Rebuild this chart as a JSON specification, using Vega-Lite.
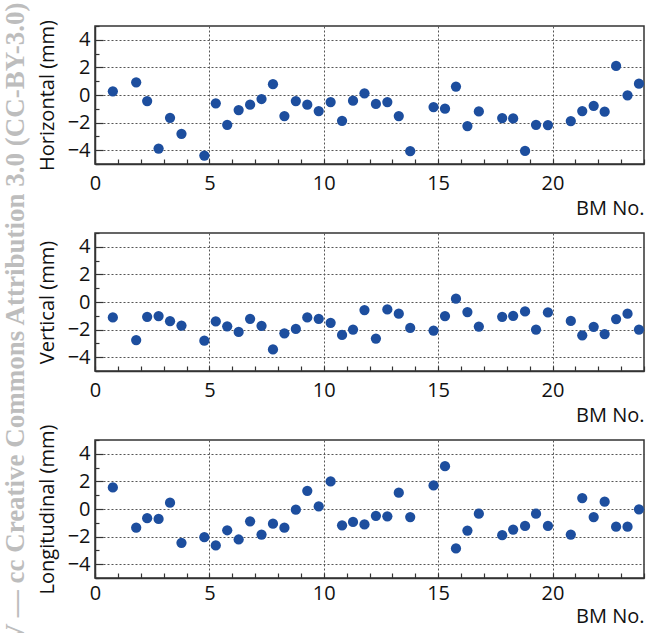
{
  "$schema": "https://vega.github.io/schema/vega-lite/v6.json",
  "padding": {"left": 2, "top": 1, "right": 0, "bottom": 0},
  "background": "white",
  "bounds": "flush",
  "spacing": 69,
  "title": {"text": "V — cc Creative Commons Attribution 3.0 (CC-BY-3.0)", "orient": "left", "anchor": "middle", "font": "Liberation Serif", "fontWeight": "bold", "fontSize": 27, "color": "#bdbdbd", "offset": 6},
  "datasets": {
    "bm": [
      {"bm": 0.78, "h": 0.27, "v": -1.12, "l": 1.56},
      {"bm": 1.8, "h": 0.92, "v": -2.76, "l": -1.35},
      {"bm": 2.28, "h": -0.44, "v": -1.07, "l": -0.67},
      {"bm": 2.78, "h": -3.88, "v": -1.02, "l": -0.72},
      {"bm": 3.28, "h": -1.65, "v": -1.39, "l": 0.46},
      {"bm": 3.78, "h": -2.81, "v": -1.71, "l": -2.45},
      {"bm": 4.78, "h": -4.39, "v": -2.8, "l": -2.04},
      {"bm": 5.28, "h": -0.6, "v": -1.41, "l": -2.64},
      {"bm": 5.78, "h": -2.16, "v": -1.76, "l": -1.54},
      {"bm": 6.28, "h": -1.09, "v": -2.17, "l": -2.21},
      {"bm": 6.78, "h": -0.7, "v": -1.22, "l": -0.89},
      {"bm": 7.28, "h": -0.29, "v": -1.73, "l": -1.85},
      {"bm": 7.78, "h": 0.78, "v": -3.44, "l": -1.06},
      {"bm": 8.28, "h": -1.53, "v": -2.27, "l": -1.35},
      {"bm": 8.78, "h": -0.44, "v": -1.95, "l": -0.05},
      {"bm": 9.28, "h": -0.7, "v": -1.12, "l": 1.32},
      {"bm": 9.78, "h": -1.16, "v": -1.22, "l": 0.19},
      {"bm": 10.3, "h": -0.51, "v": -1.51, "l": 2.0},
      {"bm": 10.8, "h": -1.87, "v": -2.39, "l": -1.18},
      {"bm": 11.28, "h": -0.41, "v": -2.0, "l": -0.94},
      {"bm": 11.78, "h": 0.12, "v": -0.58, "l": -1.12},
      {"bm": 12.28, "h": -0.65, "v": -2.65, "l": -0.49},
      {"bm": 12.78, "h": -0.51, "v": -0.54, "l": -0.53},
      {"bm": 13.28, "h": -1.53, "v": -0.85, "l": 1.18},
      {"bm": 13.78, "h": -4.07, "v": -1.88, "l": -0.58},
      {"bm": 14.8, "h": -0.87, "v": -2.07, "l": 1.71},
      {"bm": 15.3, "h": -0.99, "v": -1.02, "l": 3.1},
      {"bm": 15.78, "h": 0.61, "v": 0.24, "l": -2.86},
      {"bm": 16.28, "h": -2.25, "v": -0.73, "l": -1.56},
      {"bm": 16.78, "h": -1.19, "v": -1.78, "l": -0.34},
      {"bm": 17.8, "h": -1.67, "v": -1.07, "l": -1.9},
      {"bm": 18.28, "h": -1.7, "v": -1.0, "l": -1.49},
      {"bm": 18.8, "h": -4.05, "v": -0.68, "l": -1.23},
      {"bm": 19.28, "h": -2.16, "v": -2.0, "l": -0.34},
      {"bm": 19.8, "h": -2.18, "v": -0.76, "l": -1.23},
      {"bm": 20.8, "h": -1.89, "v": -1.37, "l": -1.85},
      {"bm": 21.3, "h": -1.16, "v": -2.41, "l": 0.79},
      {"bm": 21.8, "h": -0.78, "v": -1.8, "l": -0.58},
      {"bm": 22.28, "h": -1.21, "v": -2.32, "l": 0.53},
      {"bm": 22.78, "h": 2.11, "v": -1.24, "l": -1.28},
      {"bm": 23.28, "h": -0.02, "v": -0.85, "l": -1.28},
      {"bm": 23.78, "h": 0.82, "v": -2.0, "l": -0.02}
    ]
  },
  "config": {
    "view": {"stroke": "#333333", "strokeWidth": 1.5},
    "font": "Open Sans",
    "axis": {
      "labelFont": "Open Sans", "labelFontSize": 20, "labelColor": "#111111",
      "titleFont": "Open Sans", "titleFontSize": 20, "titleFontWeight": "normal", "titleColor": "#111111",
      "domainColor": "#333333", "domainWidth": 1.5, "tickColor": "#333333", "tickWidth": 1.2,
      "gridColor": "#555555", "gridDash": [2, 2], "gridWidth": 1
    }
  },
  "vconcat": [
    {
      "width": 549, "height": 138,
      "data": {"name": "bm"},
      "mark": {"type": "circle", "size": 105, "color": "#1d4e9e", "opacity": 1},
      "encoding": {
        "x": {"field": "bm", "type": "quantitative", "scale": {"domain": [0, 24], "nice": false},
          "axis": {"title": "BM No.", "titleAnchor": "end", "titlePadding": 5, "values": [0,1,2,3,4,5,6,7,8,9,10,11,12,13,14,15,16,17,18,19,20,21,22,23,24], "labelExpr": "datum.value % 5 === 0 ? datum.label : ''", "labelFlush": false, "tickSize": -5, "labelPadding": 14, "gridOpacity": {"condition": {"test": "datum.value % 5 === 0", "value": 1}, "value": 0}}},
        "y": {"field": "h", "type": "quantitative", "scale": {"domain": [-5, 5], "nice": false},
          "axis": {"title": "Horizontal (mm)", "titlePadding": 10, "format": "d", "values": [-5,-4.5,-4,-3.5,-3,-2.5,-2,-1.5,-1,-0.5,0,0.5,1,1.5,2,2.5,3,3.5,4,4.5,5], "labelExpr": "(datum.value % 2 === 0 && abs(datum.value) <= 4) ? datum.label : ''", "tickSize": {"condition": {"test": "datum.value % 2 === 0", "value": -8}, "value": -4}, "labelPadding": 13, "gridOpacity": {"condition": {"test": "datum.value % 2 === 0 && abs(datum.value) <= 4", "value": 1}, "value": 0}}}
      }
    },
    {
      "width": 549, "height": 138,
      "data": {"name": "bm"},
      "mark": {"type": "circle", "size": 105, "color": "#1d4e9e", "opacity": 1},
      "encoding": {
        "x": {"field": "bm", "type": "quantitative", "scale": {"domain": [0, 24], "nice": false},
          "axis": {"title": "BM No.", "titleAnchor": "end", "titlePadding": 5, "values": [0,1,2,3,4,5,6,7,8,9,10,11,12,13,14,15,16,17,18,19,20,21,22,23,24], "labelExpr": "datum.value % 5 === 0 ? datum.label : ''", "labelFlush": false, "tickSize": -5, "labelPadding": 14, "gridOpacity": {"condition": {"test": "datum.value % 5 === 0", "value": 1}, "value": 0}}},
        "y": {"field": "v", "type": "quantitative", "scale": {"domain": [-5, 5], "nice": false},
          "axis": {"title": "Vertical (mm)", "titlePadding": 10, "format": "d", "values": [-5,-4.5,-4,-3.5,-3,-2.5,-2,-1.5,-1,-0.5,0,0.5,1,1.5,2,2.5,3,3.5,4,4.5,5], "labelExpr": "(datum.value % 2 === 0 && abs(datum.value) <= 4) ? datum.label : ''", "tickSize": {"condition": {"test": "datum.value % 2 === 0", "value": -8}, "value": -4}, "labelPadding": 13, "gridOpacity": {"condition": {"test": "datum.value % 2 === 0 && abs(datum.value) <= 4", "value": 1}, "value": 0}}}
      }
    },
    {
      "width": 549, "height": 138,
      "data": {"name": "bm"},
      "mark": {"type": "circle", "size": 105, "color": "#1d4e9e", "opacity": 1},
      "encoding": {
        "x": {"field": "bm", "type": "quantitative", "scale": {"domain": [0, 24], "nice": false},
          "axis": {"title": "BM No.", "titleAnchor": "end", "titlePadding": 3, "values": [0,1,2,3,4,5,6,7,8,9,10,11,12,13,14,15,16,17,18,19,20,21,22,23,24], "labelExpr": "datum.value % 5 === 0 ? datum.label : ''", "labelFlush": false, "tickSize": -5, "labelPadding": 10, "gridOpacity": {"condition": {"test": "datum.value % 5 === 0", "value": 1}, "value": 0}}},
        "y": {"field": "l", "type": "quantitative", "scale": {"domain": [-5, 5], "nice": false},
          "axis": {"title": "Longitudinal (mm)", "titlePadding": 10, "format": "d", "values": [-5,-4.5,-4,-3.5,-3,-2.5,-2,-1.5,-1,-0.5,0,0.5,1,1.5,2,2.5,3,3.5,4,4.5,5], "labelExpr": "(datum.value % 2 === 0 && abs(datum.value) <= 4) ? datum.label : ''", "tickSize": {"condition": {"test": "datum.value % 2 === 0", "value": -8}, "value": -4}, "labelPadding": 13, "gridOpacity": {"condition": {"test": "datum.value % 2 === 0 && abs(datum.value) <= 4", "value": 1}, "value": 0}}}
      }
    }
  ]
}
